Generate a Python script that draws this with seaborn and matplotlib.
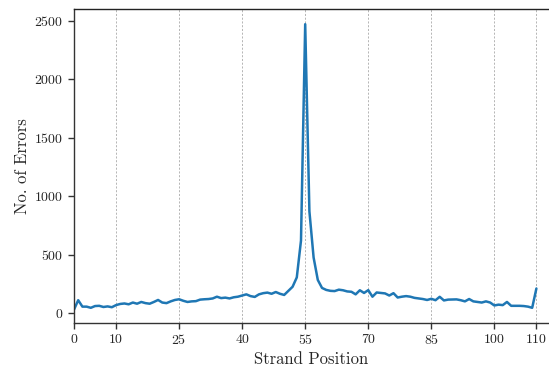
import matplotlib
matplotlib.use("Agg")
import matplotlib.pyplot as plt
import seaborn as sns
import pandas as pd

# Error counts per strand position
positions = list(range(0, 111))
errors = [
    30, 110, 55, 55, 45, 60, 62, 52, 57, 50,
    68, 78, 82, 75, 90, 80, 95, 85, 80, 95,
    112, 90, 85, 100, 112, 118, 105, 95, 100, 102,
    115, 118, 120, 125, 140, 128, 132, 125, 135, 140,
    150, 160, 145, 138, 160, 170, 175, 165, 180, 165,
    155, 190, 225, 305, 620, 2470, 870, 475, 283, 215,
    198, 190, 188, 200, 195, 185, 182, 160, 195, 172,
    196, 140, 176, 172, 168, 150, 170, 133, 140, 145,
    140, 130, 125, 120, 112, 122, 110, 139, 108, 115,
    116, 117, 110, 100, 120, 100, 95, 90, 100, 90,
    65, 72, 68, 95, 62, 62, 62, 60, 55, 45,
    210,
]
xticks = [0, 10, 25, 40, 55, 70, 85, 100, 110]
yticks = [0, 500, 1000, 1500, 2000, 2500]

df = pd.DataFrame({"Strand Position": positions, "No. of Errors": errors})

sns.set_theme(style="ticks")
plt.rcParams["font.family"] = ["cmr10", "DejaVu Serif"]
plt.rcParams["mathtext.fontset"] = "cm"
plt.rcParams["axes.formatter.use_mathtext"] = True
plt.rcParams["axes.unicode_minus"] = False

fig = plt.figure(figsize=(5.49, 3.72), dpi=100)
ax = fig.add_axes([0.1348, 0.1317, 0.8652, 0.8441])

sns.lineplot(data=df, x="Strand Position", y="No. of Errors", ax=ax,
             color="#1f77b4", linewidth=1.8)

ax.set_xlim(0, 113)
ax.set_ylim(-85, 2600)
ax.set_xticks(xticks)
ax.set_yticks(yticks)
ax.tick_params(axis="both", labelsize=10, length=4, width=1, color="#333333",
               direction="out")
ax.xaxis.grid(True, linestyle=(0, (2.5, 2)), color="#aaaaaa", linewidth=0.6)
ax.yaxis.grid(False)

ax.set_xlabel("Strand Position", fontsize=12, labelpad=3)
ax.set_ylabel("No. of Errors", fontsize=12, labelpad=3)

for side in ["left", "bottom"]:
    ax.spines[side].set_color("#333333")
    ax.spines[side].set_linewidth(1.0)
ax.spines["top"].set_color("#222222")
ax.spines["top"].set_linewidth(1.0)
ax.spines["right"].set_visible(False)

fig.savefig("out.png", dpi=100)
